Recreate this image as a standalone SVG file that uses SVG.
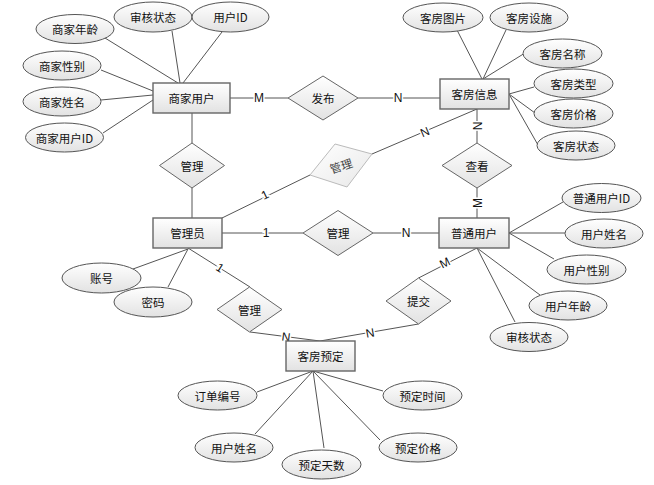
<svg xmlns="http://www.w3.org/2000/svg" width="654" height="485" viewBox="0 0 654 485">
<defs>
<linearGradient id="g" x1="0" y1="0" x2="0" y2="1"><stop offset="0" stop-color="#ffffff"/><stop offset="1" stop-color="#e2e2e2"/></linearGradient>
<linearGradient id="g2" x1="0" y1="0" x2="1" y2="1"><stop offset="0" stop-color="#ffffff"/><stop offset="1" stop-color="#e8e8e8"/></linearGradient>
</defs>
<style>
.ent rect{fill:url(#g);stroke:#666;stroke-width:1.4}
.att ellipse{fill:url(#g);stroke:#555;stroke-width:1}
.rel polygon{fill:url(#g);stroke:#666;stroke-width:1}
.rel.light polygon{fill:url(#g2);stroke:#bbb}
text{font-family:"Noto Sans CJK SC","Noto Sans",sans-serif;font-size:11.5px;fill:#111;text-anchor:middle;dominant-baseline:central}
#connectors line{stroke:#555;stroke-width:1}
.lab{font-family:"Liberation Sans",Arial,sans-serif;font-size:12px;fill:#111;stroke:#fff;stroke-width:3;paint-order:stroke}
</style>
<rect width="654" height="485" fill="#fff"/>
<g id="connectors">
<line x1="230" y1="98" x2="288" y2="98"/>
<line x1="358" y1="98" x2="440" y2="98"/>
<line x1="192" y1="113" x2="192" y2="143"/>
<line x1="192" y1="188" x2="192" y2="218"/>
<line x1="222" y1="218" x2="310" y2="175"/>
<line x1="372" y1="154" x2="477" y2="109"/>
<line x1="477" y1="109" x2="477" y2="143"/>
<line x1="477" y1="188" x2="477" y2="218"/>
<line x1="222" y1="233" x2="303" y2="233"/>
<line x1="373" y1="233" x2="439" y2="233"/>
<line x1="188" y1="248" x2="250" y2="287"/>
<line x1="250" y1="332" x2="320" y2="341"/>
<line x1="477" y1="248" x2="418.5" y2="278"/>
<line x1="418.5" y1="324" x2="320" y2="341"/>
<line x1="105" y1="38" x2="178" y2="83"/>
<line x1="172" y1="31" x2="180" y2="83"/>
<line x1="222" y1="32" x2="183" y2="83"/>
<line x1="101" y1="70" x2="153" y2="91"/>
<line x1="101" y1="100" x2="153" y2="95"/>
<line x1="103" y1="133" x2="153" y2="100"/>
<line x1="457" y1="30" x2="482" y2="79"/>
<line x1="506" y1="30" x2="483" y2="79"/>
<line x1="525" y1="53" x2="483" y2="79"/>
<line x1="534" y1="87" x2="509" y2="94"/>
<line x1="535" y1="113" x2="509" y2="94"/>
<line x1="538" y1="145" x2="509" y2="94"/>
<line x1="133" y1="269" x2="188" y2="249"/>
<line x1="168" y1="287" x2="188" y2="249"/>
<line x1="563" y1="202" x2="509" y2="233"/>
<line x1="565" y1="233" x2="509" y2="233"/>
<line x1="554" y1="259" x2="509" y2="233"/>
<line x1="540" y1="295" x2="477" y2="248"/>
<line x1="515" y1="322" x2="477" y2="248"/>
<line x1="257" y1="392" x2="313" y2="371"/>
<line x1="255" y1="434" x2="313" y2="371"/>
<line x1="324" y1="448" x2="313" y2="371"/>
<line x1="380" y1="440" x2="313" y2="371"/>
<line x1="383" y1="391" x2="313" y2="371"/>
<text class="lab" x="259" y="98">M</text>
<text class="lab" x="398" y="98">N</text>
<text class="lab" x="265" y="195" transform="rotate(-26 265 195)">1</text>
<text class="lab" x="425" y="132" transform="rotate(-23 425 132)">N</text>
<text class="lab" x="478" y="126" transform="rotate(-90 478 126)">N</text>
<text class="lab" x="478" y="203" transform="rotate(-90 478 203)">M</text>
<text class="lab" x="266" y="233">1</text>
<text class="lab" x="406" y="233">N</text>
<text class="lab" x="220" y="268" transform="rotate(32 220 268)">1</text>
<text class="lab" x="445" y="263" transform="rotate(-27 445 263)">M</text>
<text class="lab" x="286" y="337" transform="rotate(7 286 337)">N</text>
<text class="lab" x="370" y="333" transform="rotate(-10 370 333)">N</text>
</g>
<g id="e-shangjia" class="ent"><rect x="153" y="83" width="77" height="30"/><text x="191.5" y="98">商家用户</text></g>
<g id="e-kefang" class="ent"><rect x="440" y="79" width="69" height="30"/><text x="474.5" y="94">客房信息</text></g>
<g id="e-admin" class="ent"><rect x="153" y="218" width="69" height="30"/><text x="187.5" y="233">管理员</text></g>
<g id="e-user" class="ent"><rect x="439" y="218" width="70" height="30"/><text x="474" y="233">普通用户</text></g>
<g id="e-yuding" class="ent"><rect x="286" y="341" width="69" height="30"/><text x="320.5" y="356">客房预定</text></g>
<g id="r-fabu" class="rel"><polygon points="288,98 323,76 358,98 323,120"/><text x="323" y="98">发布</text></g>
<g id="r-guanli1" class="rel"><polygon points="159.5,165.5 192,143 224.5,165.5 192,188"/><text x="192" y="165.5">管理</text></g>
<g id="r-chakan" class="rel"><polygon points="442,165.5 477,143 512,165.5 477,188"/><text x="477" y="165.5">查看</text></g>
<g id="r-guanli2" class="rel light"><polygon points="310,175 335,144 372,154 347,187"/><text x="341" y="165.5" transform="rotate(-18 341 165.5)" style="fill:#444">管理</text></g>
<g id="r-guanli3" class="rel"><polygon points="303,233 338,210.5 373,233 338,255.5"/><text x="338" y="233">管理</text></g>
<g id="r-guanli4" class="rel"><polygon points="217,309.5 249.5,287 282,309.5 249.5,332"/><text x="249.5" y="309.5">管理</text></g>
<g id="r-tijiao" class="rel"><polygon points="386,301 418.5,278 451,301 418.5,324"/><text x="418.5" y="301">提交</text></g>
<g id="a1" class="att"><ellipse cx="75" cy="29" rx="39" ry="14.5"/><text x="75" y="29">商家年龄</text></g>
<g id="a2" class="att"><ellipse cx="153" cy="17" rx="39" ry="15"/><text x="153" y="17">审核状态</text></g>
<g id="a3" class="att"><ellipse cx="230.5" cy="17" rx="38.5" ry="15"/><text x="230.5" y="17">用户ID</text></g>
<g id="a4" class="att"><ellipse cx="62" cy="65.5" rx="39" ry="14.5"/><text x="62" y="65.5">商家性别</text></g>
<g id="a5" class="att"><ellipse cx="62" cy="101.5" rx="39" ry="14.5"/><text x="62" y="101.5">商家姓名</text></g>
<g id="a6" class="att"><ellipse cx="64.5" cy="137.5" rx="39" ry="14.5"/><text x="64.5" y="137.5">商家用户ID</text></g>
<g id="a7" class="att"><ellipse cx="443" cy="17.5" rx="40" ry="14.5"/><text x="443" y="17.5">客房图片</text></g>
<g id="a8" class="att"><ellipse cx="529" cy="17.5" rx="39" ry="14.5"/><text x="529" y="17.5">客房设施</text></g>
<g id="a9" class="att"><ellipse cx="562.5" cy="53.5" rx="39.5" ry="14.5"/><text x="562.5" y="53.5">客房名称</text></g>
<g id="a10" class="att"><ellipse cx="573.5" cy="83.5" rx="39.5" ry="14.5"/><text x="573.5" y="83.5">客房类型</text></g>
<g id="a11" class="att"><ellipse cx="573.5" cy="113.5" rx="39.5" ry="14.5"/><text x="573.5" y="113.5">客房价格</text></g>
<g id="a12" class="att"><ellipse cx="576" cy="145.5" rx="39" ry="14.5"/><text x="576" y="145.5">客房状态</text></g>
<g id="a13" class="att"><ellipse cx="101.5" cy="278" rx="39.5" ry="15"/><text x="101.5" y="278">账号</text></g>
<g id="a14" class="att"><ellipse cx="153" cy="302" rx="39" ry="15"/><text x="153" y="302">密码</text></g>
<g id="a15" class="att"><ellipse cx="601.5" cy="198" rx="39.5" ry="14.5"/><text x="601.5" y="198">普通用户ID</text></g>
<g id="a16" class="att"><ellipse cx="604" cy="233.5" rx="39" ry="14.5"/><text x="604" y="233.5">用户姓名</text></g>
<g id="a17" class="att"><ellipse cx="586.5" cy="269.5" rx="39.5" ry="14.5"/><text x="586.5" y="269.5">用户性别</text></g>
<g id="a18" class="att"><ellipse cx="568" cy="305.5" rx="39" ry="14.5"/><text x="568" y="305.5">用户年龄</text></g>
<g id="a19" class="att"><ellipse cx="529" cy="337" rx="39" ry="14.5"/><text x="529" y="337">审核状态</text></g>
<g id="a20" class="att"><ellipse cx="217.5" cy="395.5" rx="39.5" ry="14.5"/><text x="217.5" y="395.5">订单编号</text></g>
<g id="a21" class="att"><ellipse cx="234" cy="447.5" rx="39" ry="14.5"/><text x="234" y="447.5">用户姓名</text></g>
<g id="a22" class="att"><ellipse cx="321.5" cy="464.5" rx="39.5" ry="14.5"/><text x="321.5" y="464.5">预定天数</text></g>
<g id="a23" class="att"><ellipse cx="418" cy="447.5" rx="39" ry="14.5"/><text x="418" y="447.5">预定价格</text></g>
<g id="a24" class="att"><ellipse cx="422.5" cy="395.5" rx="39.5" ry="14.5"/><text x="422.5" y="395.5">预定时间</text></g>
</svg>
